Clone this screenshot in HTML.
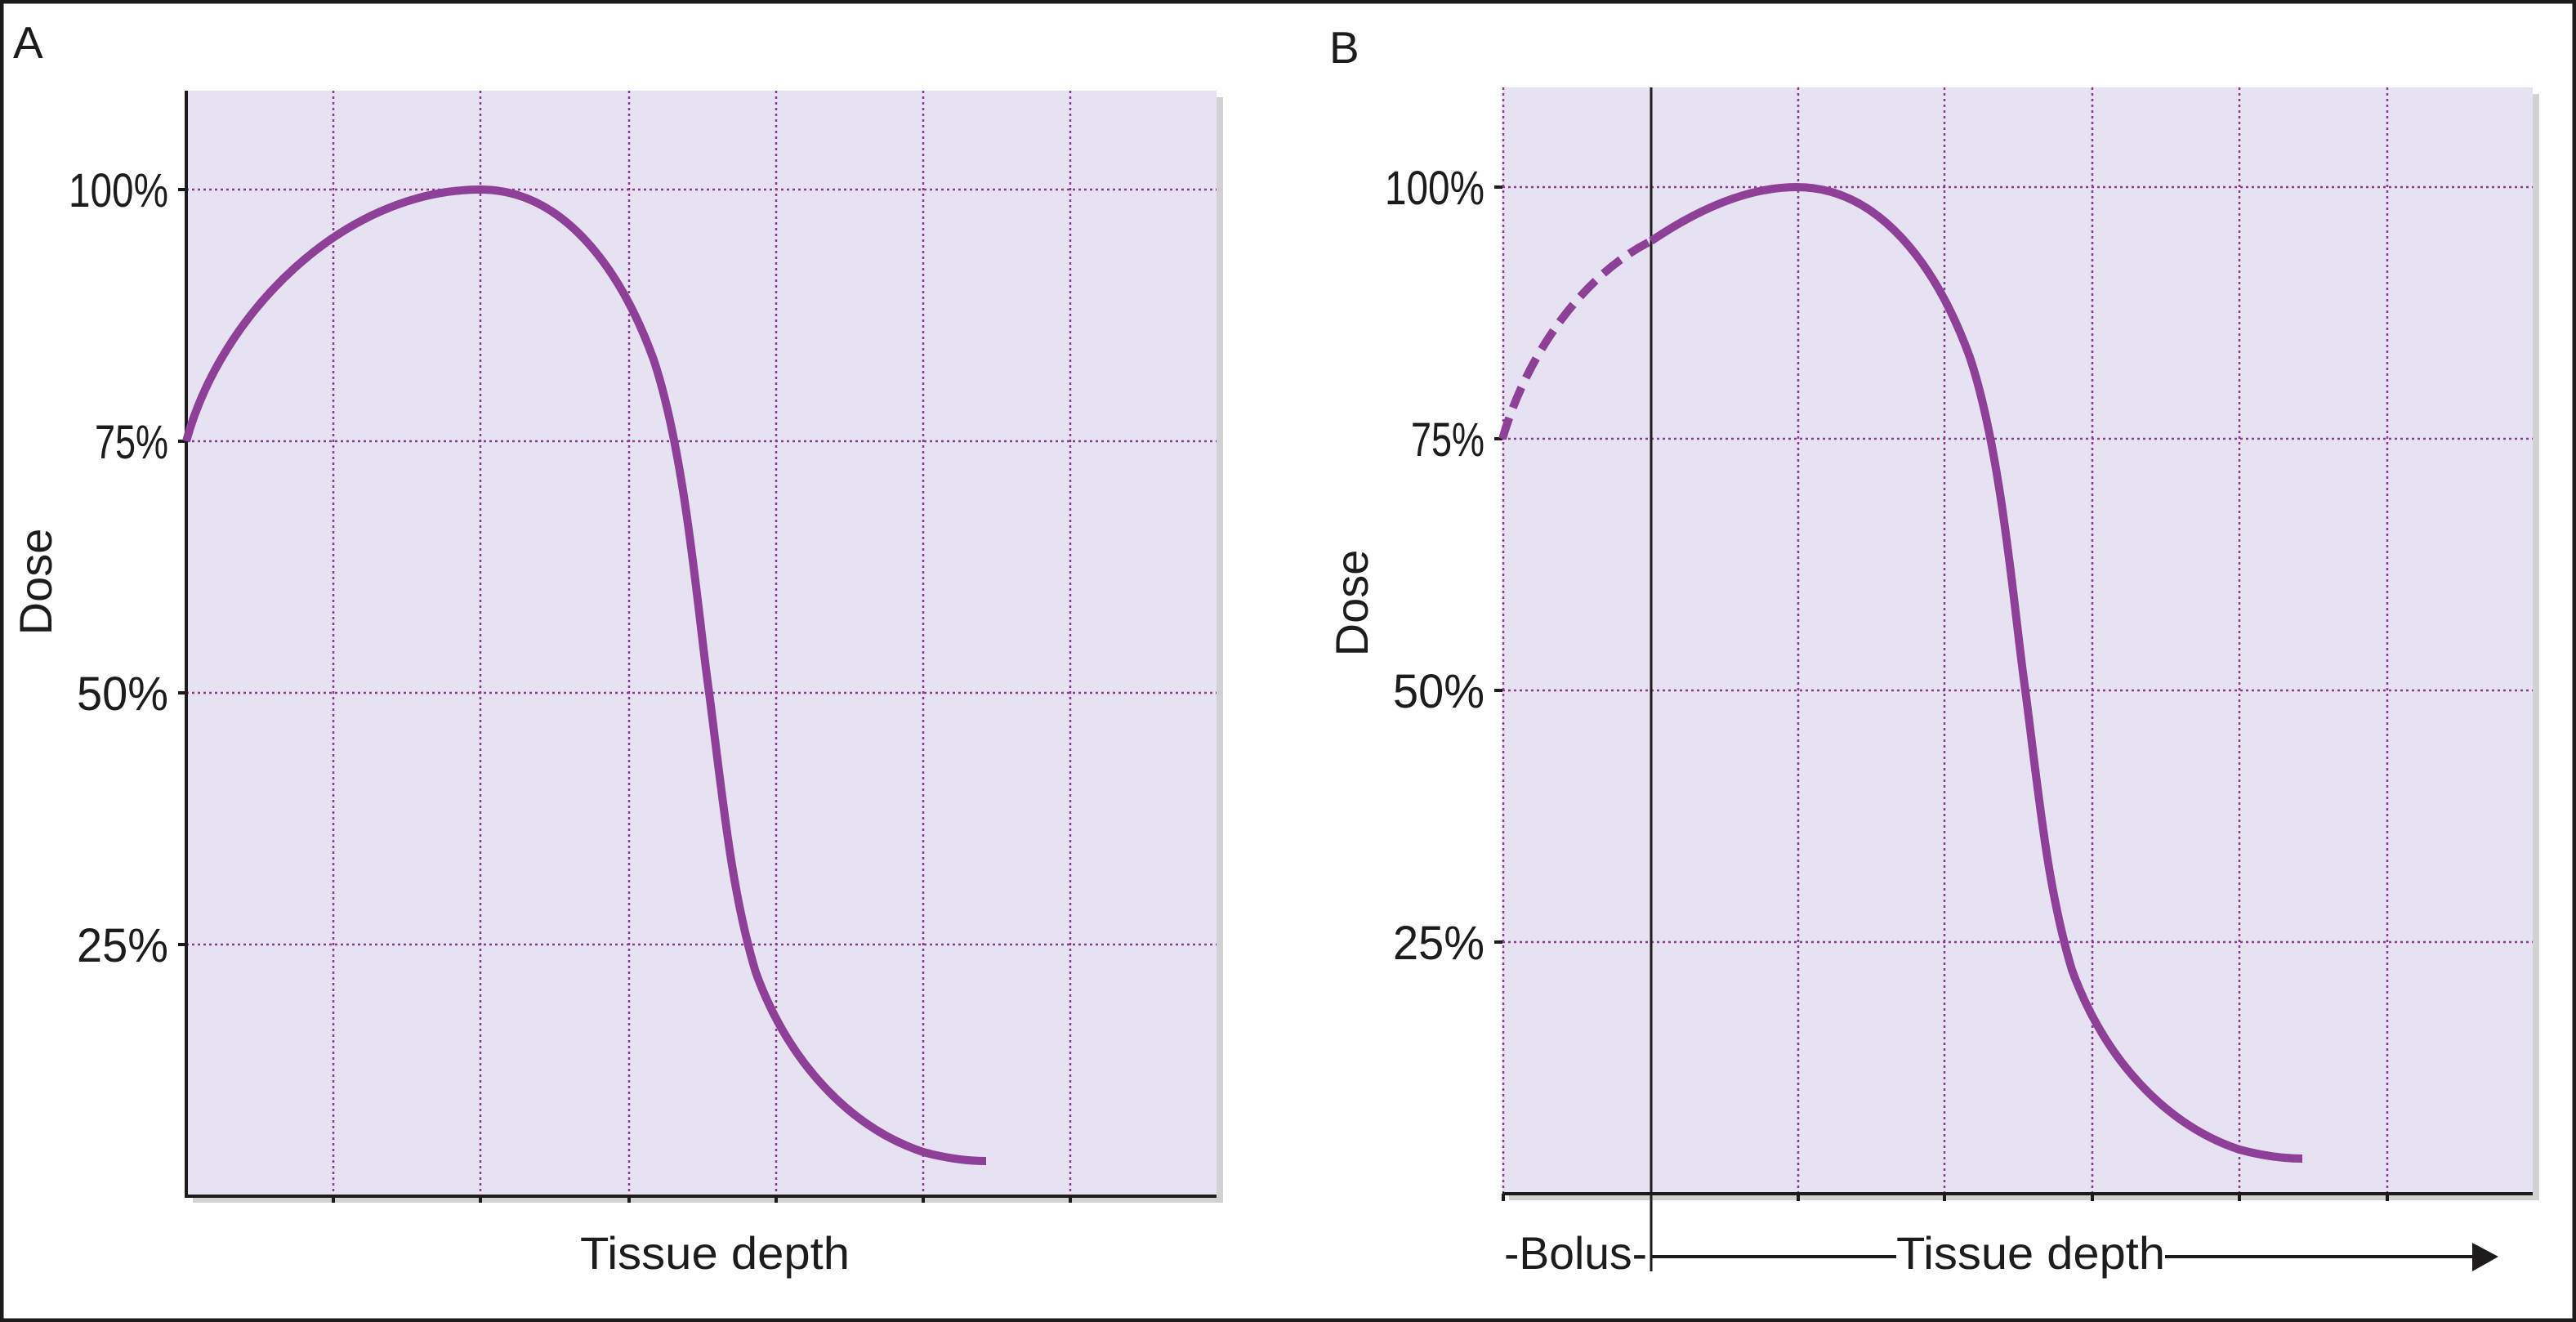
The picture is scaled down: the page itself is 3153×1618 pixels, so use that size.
<!DOCTYPE html>
<html><head><meta charset="utf-8"><style>
html,body{margin:0;padding:0;background:#fff;}
svg{display:block;}
text{font-family:"Liberation Sans",Arial,sans-serif;fill:#1d1b1c;}
</style></head><body>
<svg width="3153" height="1618" viewBox="0 0 3153 1618" xmlns="http://www.w3.org/2000/svg">
<rect x="2" y="2" width="3149" height="1614" fill="#fff" stroke="#1d1b1c" stroke-width="5"/>
<!-- Panel A -->
<text x="16" y="71" font-size="55">A</text>
<rect x="236" y="119" width="1261" height="1353" fill="#d2d2d4"/>
<rect x="228" y="111" width="1261" height="1353" fill="#e6e2f1"/>
<g stroke="#8a3a90" stroke-width="2.5" stroke-dasharray="3 4" fill="none">
<path d="M408 111V1464M588 111V1464M770 111V1464M950 111V1464M1130 111V1464M1310 111V1464"/>
<path d="M228 232H1489M228 540H1489M228 848H1489M228 1156H1489"/>
</g>
<g stroke="#1d1b1c" stroke-width="4" fill="none">
<path d="M228 111V1466M226 1464H1489"/>
<path d="M218 232H228M218 540H228M218 848H228M218 1156H228"/>
<path d="M408 1464V1472M588 1464V1472M770 1464V1472M950 1464V1472M1130 1464V1472M1310 1464V1472"/>
</g>
<path d="M228 540 C270 385 420 232 588 232 C690 232 760 330 800 440 C840 560 855 760 868 848 C885 980 895 1090 925 1190 C965 1300 1040 1380 1130 1410 C1160 1418 1185 1421 1207 1421" fill="none" stroke="#8e3f98" stroke-width="10"/>
<g font-size="58" text-anchor="end">
<text x="206" y="253" textLength="122" lengthAdjust="spacingAndGlyphs">100%</text>
<text x="206" y="561" textLength="90" lengthAdjust="spacingAndGlyphs">75%</text>
<text x="206" y="869" textLength="112" lengthAdjust="spacingAndGlyphs">50%</text>
<text x="206" y="1177" textLength="112" lengthAdjust="spacingAndGlyphs">25%</text>
</g>
<text transform="translate(63 712) rotate(-90)" font-size="56" text-anchor="middle">Dose</text>
<text x="875" y="1553" font-size="56" text-anchor="middle" textLength="330" lengthAdjust="spacingAndGlyphs">Tissue depth</text>
<!-- Panel B -->
<text x="1627" y="77" font-size="55">B</text>
<rect x="1847" y="115" width="1261" height="1354" fill="#d2d2d4"/>
<rect x="1839" y="107" width="1261" height="1354" fill="#e6e2f1"/>
<g stroke="#8a3a90" stroke-width="2.5" stroke-dasharray="3 4" fill="none">
<path d="M1840 107V1461M2201 107V1461M2380 107V1461M2561 107V1461M2741 107V1461M2922 107V1461"/>
<path d="M1839 229H3100M1839 537H3100M1839 845H3100M1839 1153H3100"/>
</g>
<g stroke="#1d1b1c" stroke-width="4" fill="none">
<path d="M1839 1461H3100"/>
<path d="M2021 107V1556" stroke-width="3"/>
<path d="M1829 229H1839M1829 537H1839M1829 845H1839M1829 1153H1839"/>
<path d="M1840 1461V1470M2201 1461V1470M2380 1461V1470M2561 1461V1470M2741 1461V1470M2922 1461V1470"/>
<path d="M2021 1538H2321M2650 1538H3030"/>
</g>
<path d="M3026 1521 L3058 1538 L3026 1556 Z" fill="#1d1b1c"/>
<path d="M1839 537 C1870 430 1940 335 2021 295" fill="none" stroke="#8e3f98" stroke-width="10" stroke-dasharray="27 13"/>
<path d="M2021 295 C2080 255 2140 229 2199 229 C2301 229 2371 327 2411 437 C2451 557 2466 757 2479 845 C2496 977 2506 1087 2536 1187 C2576 1297 2651 1377 2741 1407 C2771 1415 2796 1418 2818 1418" fill="none" stroke="#8e3f98" stroke-width="10"/>
<g font-size="58" text-anchor="end">
<text x="1817" y="250" textLength="122" lengthAdjust="spacingAndGlyphs">100%</text>
<text x="1817" y="558" textLength="90" lengthAdjust="spacingAndGlyphs">75%</text>
<text x="1817" y="866" textLength="112" lengthAdjust="spacingAndGlyphs">50%</text>
<text x="1817" y="1174" textLength="112" lengthAdjust="spacingAndGlyphs">25%</text>
</g>
<text transform="translate(1674 738) rotate(-90)" font-size="56" text-anchor="middle">Dose</text>
<text x="1841" y="1553" font-size="56" textLength="175" lengthAdjust="spacingAndGlyphs">-Bolus-</text>
<text x="2321" y="1553" font-size="56" textLength="329" lengthAdjust="spacingAndGlyphs">Tissue depth</text>
</svg>
</body></html>
